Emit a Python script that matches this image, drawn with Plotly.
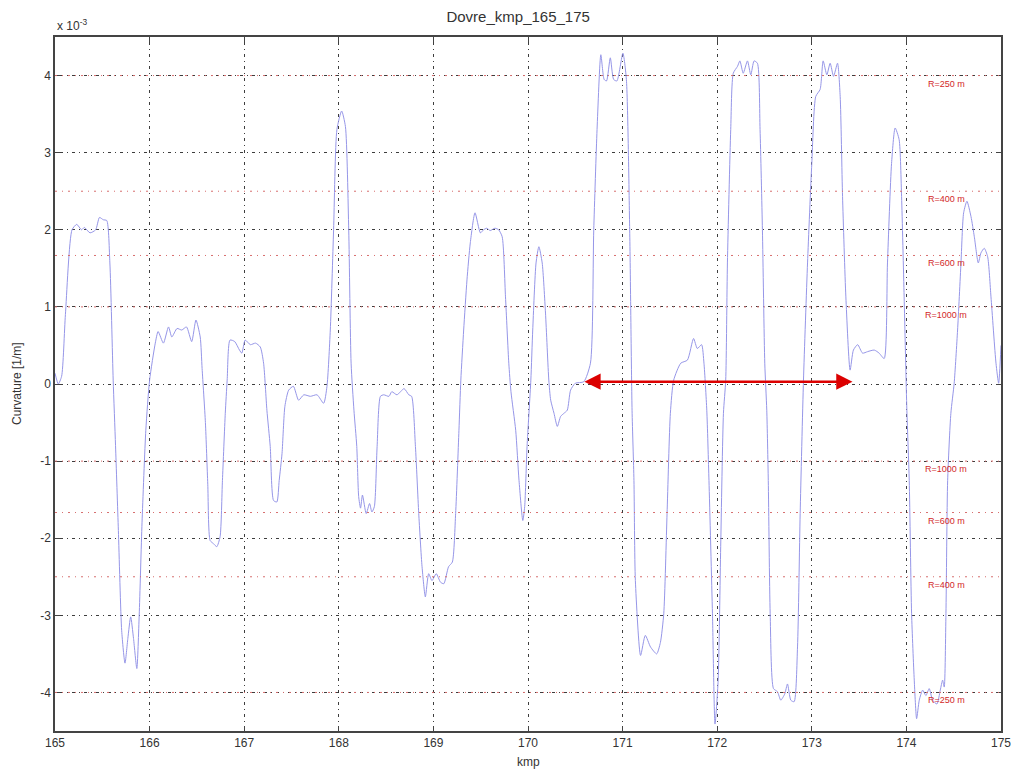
import plotly.graph_objects as go

# ---- data (curvature in units of 1e-3 1/m) ----
kmp = [165.0, 165.035, 165.07, 165.11, 165.18, 165.23, 165.28, 165.31, 165.37, 165.43, 165.47, 165.51,
       165.547, 165.58, 165.615, 165.64, 165.67, 165.705, 165.74, 165.77, 165.80, 165.83, 165.865, 165.89,
       165.92, 165.96, 166.0, 166.06, 166.09, 166.146, 166.2, 166.235, 166.29, 166.34, 166.39, 166.445,
       166.49, 166.535, 166.555, 166.59, 166.615, 166.64, 166.675, 166.71, 166.745, 166.77, 166.80, 166.82,
       166.85, 166.9, 166.95, 166.975, 167.01, 167.065, 167.12, 167.17, 167.205, 167.24, 167.275, 167.31,
       167.345, 167.37, 167.40, 167.43, 167.47, 167.52, 167.575, 167.63, 167.70, 167.77, 167.84, 167.875,
       167.91, 167.945, 167.98, 168.03, 168.07, 168.105, 168.13, 168.16, 168.19, 168.21, 168.23, 168.25,
       168.29, 168.325, 168.35, 168.376, 168.405, 168.44, 168.475, 168.53, 168.56, 168.615, 168.69, 168.74,
       168.77, 168.81, 168.845, 168.88, 168.915, 168.95, 168.985, 169.03, 169.075, 169.11, 169.16, 169.2,
       169.235, 169.27, 169.29, 169.32, 169.355, 169.39, 169.44, 169.497, 169.53, 169.565, 169.6, 169.65,
       169.69, 169.727, 169.762, 169.797, 169.82, 169.87, 169.905, 169.945, 169.965, 169.99, 170.03, 170.05,
       170.085, 170.115, 170.15, 170.185, 170.22, 170.24, 170.275, 170.31, 170.345, 170.38, 170.415, 170.45,
       170.5, 170.59, 170.66, 170.695, 170.73, 170.77, 170.805, 170.83, 170.87, 170.905, 170.94, 171.003,
       171.04, 171.075, 171.1, 171.12, 171.135, 171.19, 171.24, 171.295, 171.36, 171.4, 171.435, 171.47,
       171.505, 171.54, 171.615, 171.685, 171.75, 171.79, 171.835, 171.86, 171.89, 171.913, 171.95, 171.977,
       172.01, 172.037, 172.066, 172.09, 172.108, 172.143, 172.17, 172.215, 172.24, 172.275, 172.32, 172.355,
       172.39, 172.425, 172.453, 172.478, 172.503, 172.524, 172.54, 172.56, 172.595, 172.637, 172.672, 172.714,
       172.743, 172.778, 172.813, 172.849, 172.877, 172.912, 172.955, 173.0, 173.042, 173.088, 173.12, 173.159,
       173.194, 173.23, 173.272, 173.3, 173.325, 173.36, 173.405, 173.44, 173.485, 173.537, 173.59, 173.66,
       173.712, 173.765, 173.8, 173.843, 173.881, 173.923, 173.949, 173.976, 174.005, 174.03, 174.055, 174.083,
       174.108, 174.136, 174.172, 174.206, 174.241, 174.277, 174.323, 174.358, 174.383, 174.4, 174.418, 174.436,
       174.47, 174.505, 174.541, 174.577, 174.605, 174.64, 174.683, 174.718, 174.76, 174.788, 174.823, 174.859,
       174.894, 174.947, 174.975, 175.0]
curvature = [0.14, 0.0, 0.1, 0.9, 2.0, 2.07, 2.0, 2.03, 1.96, 2.0, 2.16, 2.13,
             2.12, 1.57, 0.05, -0.8, -1.9, -3.2, -3.62, -3.3, -3.02, -3.3, -3.69, -3.0,
             -1.8, -0.6, 0.05, 0.53, 0.68, 0.53, 0.74, 0.61, 0.72, 0.70, 0.74, 0.55,
             0.83, 0.61, 0.2, -0.5, -1.3, -2.03, -2.07, -2.11, -1.98, -1.25, -0.38, 0.05,
             0.57, 0.55, 0.44, 0.40, 0.57, 0.51, 0.53, 0.48, 0.27, -0.34, -0.81, -1.51,
             -1.53, -1.25, -0.9, -0.29, -0.08, -0.03, -0.21, -0.14, -0.16, -0.14, -0.25, -0.03,
             0.70, 2.0, 3.3, 3.54, 3.34, 2.0, 0.27, -0.34, -0.81, -1.46, -1.61, -1.44,
             -1.68, -1.55, -1.66, -1.59, -0.81, -0.16, -0.14, -0.16, -0.1, -0.14, -0.06, -0.14,
             -0.16, -0.81, -1.68, -2.37, -2.76, -2.46, -2.55, -2.46, -2.57, -2.59, -2.37, -2.31,
             -1.68, -0.6, 0.05, 0.7, 1.35, 1.83, 2.22, 1.96, 2.0, 2.02, 1.99, 2.02,
             2.0, 1.91, 1.13, 0.27, -0.1, -0.6, -1.25, -1.77, -1.59, -0.81, 0.05, 0.7,
             1.57, 1.78, 1.57, 0.92, 0.05, -0.21, -0.38, -0.55, -0.42, -0.38, -0.34, -0.08,
             0.01, 0.03, 0.27, 2.0, 3.3, 4.27, 3.95, 3.93, 4.23, 3.95, 3.93, 4.29,
             3.95, 2.0, -0.34, -1.25, -2.55, -3.52, -3.26, -3.41, -3.5, -3.35, -2.98, -1.68,
             -0.38, 0.05, 0.27, 0.31, 0.59, 0.46, 0.51, 0.27, -0.34, -1.25, -2.98, -4.41,
             -3.84, -2.11, -0.38, 0.05, 1.57, 3.3, 4.03, 4.12, 4.19, 4.03, 4.19, 4.01,
             4.19, 4.16, 3.3, 2.0, 0.27, -0.34, -1.25, -2.98, -3.95, -3.99, -4.1, -4.02,
             -3.89, -4.1, -4.12, -3.41, -1.68, 0.05, 1.57, 2.86, 3.73, 3.82, 4.19, 4.01,
             4.16, 3.99, 4.16, 3.73, 2.43, 1.13, 0.18, 0.44, 0.51, 0.40, 0.42, 0.44,
             0.40, 0.33, 1.57, 2.86, 3.32, 3.17, 2.43, 1.13, -0.34, -1.25, -2.98, -3.84,
             -4.34, -4.1, -3.97, -4.04, -3.95, -4.1, -4.15, -3.97, -3.84, -3.93, -2.98, -1.25,
             -0.38, 0.01, 0.7, 1.57, 2.22, 2.37, 2.17, 1.91, 1.57, 1.70, 1.76, 1.65,
             1.13, 0.27, 0.01, 0.5]

radii_m = [250, 400, 600, 1000]           # reference radii
label_kmp = 174.42                         # where the R labels sit
arrow_kmp = [170.58, 173.43]               # red double arrow ends
arrow_level = 0.03

x_ticks = list(range(165, 176))
y_ticks = list(range(-4, 5))

FONT = "Liberation Sans, Arial"

fig = go.Figure()
fig.add_trace(go.Scatter(x=kmp, y=curvature, mode="lines",
                         line=dict(color="rgb(150,150,232)", width=1, shape="spline", smoothing=0.6),
                         showlegend=False, hoverinfo="skip"))

ref_color = "rgb(215,110,110)"
for r in radii_m:
    v = 1000.0 / r
    for s in (1, -1):
        fig.add_shape(type="line", xref="paper", x0=0, x1=1, yref="y", y0=s * v, y1=s * v,
                      line=dict(color=ref_color, width=1, dash="2px,5px,1px,5px"), layer="above")
        fig.add_annotation(x=label_kmp, y=s * v, text=f"R={r} m", showarrow=False,
                           yshift=-8, font=dict(family=FONT, size=9, color="rgb(210,40,40)"))

fig.add_annotation(x=arrow_kmp[1], y=arrow_level, ax=arrow_kmp[0], ay=arrow_level,
                   xref="x", yref="y", axref="x", ayref="y", text="", showarrow=True,
                   arrowhead=2, startarrowhead=2, arrowside="end+start", arrowsize=1.3,
                   startarrowsize=1.3, arrowwidth=2.5, arrowcolor="rgb(220,0,0)")

fig.add_annotation(xref="paper", yref="paper", x=0, y=1, xanchor="left", yanchor="bottom",
                   text="x 10<sup>-3</sup>", showarrow=False, yshift=2,
                   font=dict(family=FONT, size=12, color="#333"))

# axis titles placed as annotations so the plot frame stays fixed
fig.add_annotation(xref="paper", yref="paper", x=0.5, y=0, yshift=-22, xanchor="center", yanchor="top",
                   text="kmp", showarrow=False, font=dict(family=FONT, size=12, color="#333"))
fig.add_annotation(xref="paper", yref="paper", x=0, y=0.5, xshift=-38, xanchor="center", yanchor="middle",
                   text="Curvature [1/m]", textangle=-90, showarrow=False,
                   font=dict(family=FONT, size=12, color="#333"))

axis_common = dict(showline=True, linecolor="#444", linewidth=1.5, mirror="ticks",
                   ticks="inside", ticklen=5, tickcolor="#444", showgrid=True, automargin=False,
                   gridcolor="rgba(40,40,40,0.9)", gridwidth=1, griddash="1px,4px,3px,4px",
                   zeroline=False, tickfont=dict(family=FONT, size=12, color="#333"))

fig.update_xaxes(range=[165, 175], tickvals=x_ticks, ticktext=[str(t) for t in x_ticks], **axis_common)
fig.update_yaxes(range=[-4.5, 4.5], tickvals=y_ticks, ticktext=[str(t) for t in y_ticks], **axis_common)

fig.update_layout(width=1016, height=771, paper_bgcolor="white", plot_bgcolor="white",
                  margin=dict(l=55, r=15, t=37, b=40, autoexpand=False),
                  title=dict(text="Dovre_kmp_165_175", x=0.51, xanchor="center", y=0.985, yanchor="top",
                             font=dict(family=FONT, size=15, color="#333")))

fig.write_html("out.html")
